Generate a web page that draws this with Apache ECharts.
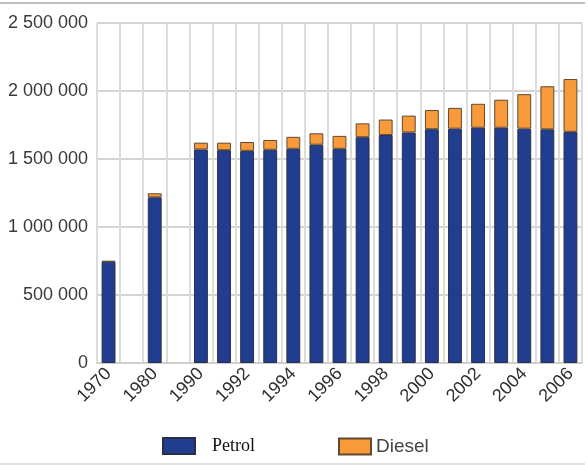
<!DOCTYPE html>
<html>
<head>
<meta charset="utf-8">
<title>Petrol and diesel cars</title>
<script src="https://cdn.jsdelivr.net/npm/echarts@6/dist/echarts.min.js"></script>
<style>
  html, body { margin: 0; padding: 0; background: #fff; }
  #chart { width: 588px; height: 465px; }
</style>
</head>
<body>
<div id="chart"></div>
<script>
// Years on the category axis (1975 and 1985 have no figures)
var years = ['1970', '1975', '1980', '1985', '1990', '1991', '1992', '1993', '1994', '1995', '1996',
             '1997', '1998', '1999', '2000', '2001', '2002', '2003', '2004', '2005', '2006'];

// Number of petrol-engined cars
var petrol = [745000, null, 1218000, null, 1570000, 1565000, 1560000, 1568000, 1575000, 1605000, 1575000,
              1660000, 1676000, 1695000, 1719000, 1723000, 1730000, 1730000, 1723000, 1718000, 1700000];

// Number of diesel-engined cars
var diesel = [5000, null, 30000, null, 50000, 55000, 65000, 72000, 88000, 84000, 95000,
              102000, 114000, 124000, 141000, 153000, 176000, 206000, 254000, 317000, 388000];

// Value-axis ticks
var yTicks = [0, 500000, 1000000, 1500000, 2000000, 2500000];

var sansFont = '"Liberation Sans", Arial, sans-serif';
var chart = echarts.init(document.getElementById('chart'), null, { renderer: 'canvas' });

function spaced(v) {
  return String(v).replace(/\B(?=(\d{3})+(?!\d))/g, ' ');
}

chart.setOption({
  animation: false,
  backgroundColor: '#fff',
  grid: { left: 97, right: 6, top: 23, bottom: 102, containLabel: false },
  xAxis: {
    type: 'category',
    data: years,
    boundaryGap: true,
    axisLine: { show: true, lineStyle: { color: '#cfcfcf', width: 2 } },
    axisTick: { show: false },
    splitLine: { show: true, interval: 0, lineStyle: { color: '#dcdcdc', width: 2 } },
    axisLabel: {
      interval: 1,
      rotate: 45,
      margin: 8,
      color: '#2e2e2e',
      fontFamily: sansFont,
      fontSize: 18
    }
  },
  yAxis: {
    type: 'value',
    min: yTicks[0],
    max: yTicks[yTicks.length - 1],
    interval: yTicks[1] - yTicks[0],
    axisLine: { show: false },
    axisTick: { show: false },
    splitLine: { lineStyle: { color: '#d4d4d4', width: 2 } },
    axisLabel: {
      margin: 9,
      color: '#3a3a3a',
      fontFamily: sansFont,
      fontSize: 18,
      formatter: spaced
    }
  },
  legend: [
    {
      data: ['Petrol'],
      icon: 'rect',
      left: 157,
      top: 432,
      itemWidth: 32,
      itemHeight: 16,
      textStyle: {
        fontFamily: '"Liberation Serif", "Times New Roman", serif',
        fontSize: 18,
        color: '#111',
        padding: [0, 0, 0, 12]
      }
    },
    {
      data: ['Diesel'],
      icon: 'rect',
      left: 333,
      top: 432,
      itemWidth: 32,
      itemHeight: 16,
      textStyle: {
        fontFamily: sansFont,
        fontSize: 19,
        color: '#444',
        padding: [0, 0, 0, 0]
      }
    }
  ],
  graphic: [
    { type: 'rect', shape: { x: 0, y: 2, width: 585, height: 2 }, style: { fill: '#bdbdbd' }, silent: true },
    { type: 'rect', shape: { x: 0, y: 463, width: 585, height: 2 }, style: { fill: '#e2e2e2' }, silent: true }
  ],
  series: [
    {
      name: 'Petrol',
      type: 'bar',
      stack: 'cars',
      data: petrol,
      barWidth: '60%',
      itemStyle: { color: '#213d8f', borderColor: '#2a2f45', borderWidth: 1 }
    },
    {
      name: 'Diesel',
      type: 'bar',
      stack: 'cars',
      data: diesel,
      barWidth: '60%',
      itemStyle: { color: '#f89a3a', borderColor: '#5e4a33', borderWidth: 1 }
    }
  ]
});
</script>
</body>
</html>
